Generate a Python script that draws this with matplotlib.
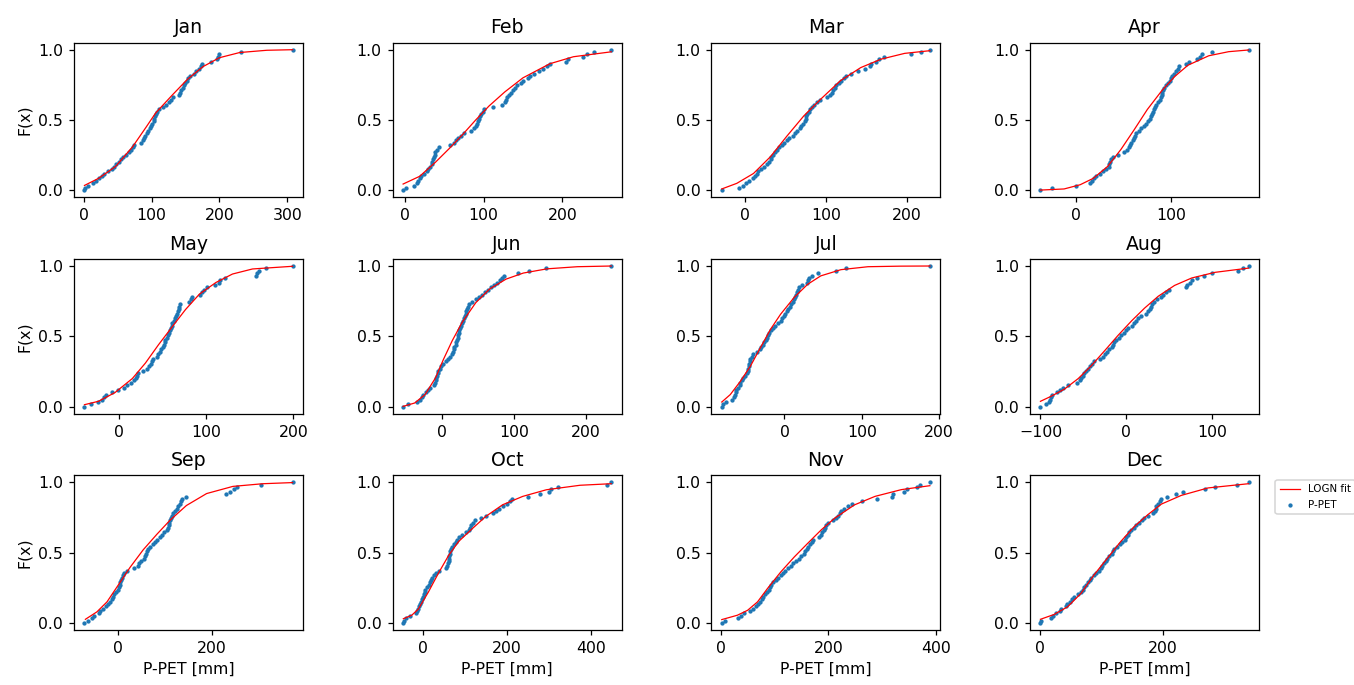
import numpy as np
import matplotlib.pyplot as plt
from matplotlib.ticker import MultipleLocator

###
# monthly empirical CDF of P-PET with fitted lognormal (LOGN) CDF
###

months = ['Jan', 'Feb', 'Mar', 'Apr', 'May', 'Jun',
          'Jul', 'Aug', 'Sep', 'Oct', 'Nov', 'Dec']

# sorted P-PET sample per month [mm]
ppet_jan = [1, 2, 6, 13, 18, 23, 27, 30, 36, 41, 45, 48, 52, 55, 58, 63, 67, 70, 72, 74,
            84, 87, 89, 91, 93, 95, 97, 99, 101, 103, 104, 105, 106, 108, 111, 117, 122, 126, 129, 132,
            141, 142, 144, 146, 148, 150, 152, 153, 156, 162, 166, 170, 173, 175, 187, 196, 198, 200, 232, 308]
ppet_feb = [-2, 2, 12, 15, 17, 19, 21, 25, 28, 30, 32, 34, 35, 36, 37, 38, 39, 41, 44, 58,
            62, 65, 68, 71, 75, 84, 88, 91, 92, 93, 94, 96, 97, 99, 101, 112, 123, 127, 129, 130,
            132, 135, 137, 140, 143, 147, 150, 156, 159, 164, 170, 176, 180, 184, 205, 207, 226, 231, 240, 262]
ppet_mar = [-28, -7, -2, 2, 6, 10, 13, 15, 17, 20, 24, 28, 30, 32, 33, 35, 37, 40, 43, 46,
            49, 52, 55, 59, 62, 65, 68, 70, 72, 74, 75, 76, 77, 79, 81, 83, 86, 89, 93, 102,
            105, 107, 109, 111, 113, 116, 119, 122, 125, 131, 140, 148, 154, 156, 162, 166, 172, 205, 217, 228]
ppet_apr = [-38, -26, 0, 14, 17, 19, 21, 25, 28, 31, 34, 35, 36, 37, 39, 44, 50, 54, 56, 57,
            58, 60, 61, 62, 63, 66, 68, 71, 74, 76, 78, 79, 80, 81, 82, 83, 84, 86, 88, 89,
            90, 91, 92, 93, 95, 97, 99, 100, 101, 103, 105, 107, 109, 116, 119, 128, 131, 133, 143, 182]
ppet_may = [-40, -33, -25, -20, -17, -15, -8, -2, 5, 9, 13, 17, 19, 20, 22, 27, 32, 34, 36, 37,
            39, 43, 45, 47, 48, 50, 51, 52, 53, 55, 56, 57, 58, 59, 60, 61, 63, 64, 65, 66,
            67, 68, 69, 70, 80, 82, 84, 93, 95, 97, 101, 110, 114, 116, 121, 157, 158, 160, 169, 199]
ppet_jun = [-54, -47, -35, -31, -28, -26, -22, -19, -17, -11, -10, -9, -8, -7, -6, -5, -3, -1, 1, 5,
            8, 11, 14, 15, 16, 17, 19, 20, 21, 22, 22.5, 23, 24, 25, 26, 28, 29, 31, 32, 33,
            34, 35, 36, 38, 41, 47, 52, 56, 60, 64, 68, 72, 76, 80, 83, 86, 106, 121, 144, 235]
ppet_jul = [-81, -80, -75, -68, -65, -64, -63, -62, -60, -58, -57, -55, -53, -51, -49, -47, -47, -46, -46, -45,
            -44, -42, -40, -36, -32, -30, -28, -26, -24, -23, -21, -20, -18, -15, -12, -8, -5, -3, -1, 1,
            3, 4, 7, 9, 11, 12, 13, 15, 16, 17, 19, 23, 29, 31, 32, 35, 44, 67, 80, 188]
ppet_aug = [-100, -93, -90, -89, -88, -86, -81, -77, -74, -68, -58, -54, -53, -51, -49, -47, -45, -42, -40, -38,
            -31, -27, -25, -23, -20, -17, -16, -15, -12, -9, -6, -3, 0, 2, 6, 9, 11, 13, 17, 23,
            25, 27, 29, 30, 32, 36, 40, 43, 46, 50, 69, 71, 74, 76, 82, 90, 100, 130, 136, 142]
ppet_sep = [-71, -64, -55, -50, -41, -39, -31, -25, -21, -17, -13, -10, -8, -4, 0, 2, 4, 5, 6, 9,
            11, 14, 20, 35, 42, 45, 50, 56, 58, 61, 63, 65, 69, 74, 79, 84, 89, 94, 99, 104,
            106, 108, 110, 112, 114, 116, 118, 121, 125, 128, 132, 135, 137, 146, 231, 238, 248, 254, 305, 372]
ppet_oct = [-46, -44, -40, -30, -16, -14, -11, -9, -6, -3, -1, 2, 4, 5, 6, 11, 15, 18, 20, 22,
            27, 32, 40, 55, 57, 60, 62, 63, 64, 65, 66, 68, 70, 75, 79, 83, 86, 93, 103, 110,
            113, 116, 120, 125, 140, 150, 168, 175, 182, 190, 200, 208, 212, 250, 278, 300, 306, 322, 438, 448]
ppet_nov = [2, 8, 32, 37, 44, 55, 60, 66, 70, 74, 77, 79, 82, 86, 89, 91, 94, 97, 102, 107,
            112, 116, 120, 125, 130, 134, 140, 146, 150, 154, 157, 160, 163, 166, 169, 172, 183, 186, 189, 192,
            194, 196, 200, 209, 215, 218, 221, 224, 229, 237, 244, 262, 290, 318, 320, 340, 346, 365, 371, 389]
ppet_dec = [0, 1, 18, 20, 26, 32, 34, 41, 44, 48, 51, 55, 61, 66, 69, 71, 74, 77, 80, 83,
            88, 91, 95, 98, 101, 103, 106, 109, 112, 117, 119, 120, 125, 130, 133, 137, 140, 142, 145, 148,
            152, 156, 160, 165, 169, 175, 184, 186, 188, 189, 191, 194, 197, 206, 221, 232, 268, 284, 320, 339]

fit_x_jan = [1, 22, 47, 72, 92, 106, 131, 153, 176, 200, 230, 270, 308]
fit_f_jan = [0.035, 0.086, 0.17, 0.31, 0.45, 0.55, 0.68, 0.79, 0.88, 0.943, 0.98, 0.996, 1.0]
fit_x_feb = [-2, 19, 39, 57, 74, 90, 107, 127, 150, 184, 214, 262]
fit_f_feb = [0.045, 0.10, 0.20, 0.30, 0.40, 0.50, 0.60, 0.70, 0.80, 0.90, 0.95, 0.985]
fit_x_mar = [-28, -9.5, 11, 32, 52, 73, 94, 118, 143, 168, 197, 228]
fit_f_mar = [0.01, 0.05, 0.12, 0.24, 0.385, 0.53, 0.65, 0.78, 0.873, 0.933, 0.974, 0.993]
fit_x_apr = [-38, -13, 4, 18, 33, 47, 61, 75, 90, 104, 118, 140, 161, 182]
fit_f_apr = [0.002, 0.01, 0.04, 0.086, 0.17, 0.29, 0.43, 0.575, 0.706, 0.81, 0.89, 0.957, 0.986, 0.998]
fit_x_may = [-40, -24, -5, 15, 30, 45, 61, 76, 92, 111, 130, 153, 199]
fit_f_may = [0.014, 0.038, 0.10, 0.20, 0.31, 0.44, 0.57, 0.69, 0.80, 0.883, 0.943, 0.979, 0.998]
fit_x_jun = [-54, -38, -23.5, -9, 2, 14, 28, 47, 66, 89, 113, 146, 188, 235]
fit_f_jun = [0.002, 0.026, 0.086, 0.205, 0.336, 0.467, 0.60, 0.74, 0.836, 0.907, 0.95, 0.98, 0.995, 1.0]
fit_x_jul = [-81, -70, -57, -44, -31, -18, -5, 12.5, 30, 47, 73, 108, 150, 188]
fit_f_jul = [0.033, 0.086, 0.18, 0.288, 0.42, 0.55, 0.657, 0.776, 0.87, 0.93, 0.974, 0.995, 0.999, 1.0]
fit_x_aug = [-100, -87.5, -72, -56, -41, -25, -10, 6, 21, 37, 56, 76, 103, 142]
fit_f_aug = [0.038, 0.074, 0.125, 0.20, 0.29, 0.40, 0.505, 0.61, 0.70, 0.785, 0.862, 0.915, 0.955, 0.985]
fit_x_sep = [-69, -44.5, -23, -2, 26, 54, 83, 111, 146, 189, 245, 309, 372]
fit_f_sep = [0.026, 0.079, 0.15, 0.255, 0.395, 0.52, 0.63, 0.73, 0.835, 0.92, 0.971, 0.99, 0.998]
fit_x_oct = [-45.5, -25.5, -9.6, 14, 38, 62, 86, 118, 150, 190, 238, 294, 374, 448]
fit_f_oct = [0.03, 0.055, 0.10, 0.22, 0.355, 0.48, 0.58, 0.67, 0.757, 0.84, 0.90, 0.947, 0.979, 0.99]
fit_x_nov = [2, 31, 50, 68.5, 87, 112, 137, 162, 187, 212, 249, 287, 336, 389]
fit_f_nov = [0.024, 0.055, 0.09, 0.15, 0.245, 0.364, 0.47, 0.567, 0.662, 0.745, 0.84, 0.90, 0.948, 0.976]
fit_x_dec = [0, 22, 44, 66, 87, 109, 131, 153, 175, 197, 229.5, 273, 339]
fit_f_dec = [0.026, 0.06, 0.114, 0.21, 0.34, 0.46, 0.58, 0.686, 0.77, 0.845, 0.907, 0.96, 0.99]

ppet = [ppet_jan, ppet_feb, ppet_mar, ppet_apr, ppet_may, ppet_jun,
        ppet_jul, ppet_aug, ppet_sep, ppet_oct, ppet_nov, ppet_dec]
fit_x = [fit_x_jan, fit_x_feb, fit_x_mar, fit_x_apr, fit_x_may, fit_x_jun,
         fit_x_jul, fit_x_aug, fit_x_sep, fit_x_oct, fit_x_nov, fit_x_dec]
fit_f = [fit_f_jan, fit_f_feb, fit_f_mar, fit_f_apr, fit_f_may, fit_f_jun,
         fit_f_jul, fit_f_aug, fit_f_sep, fit_f_oct, fit_f_nov, fit_f_dec]


def visualize_cdf():
    fig, axs = plt.subplots(3, 4, figsize=(1354/113, 685/113), dpi=113)
    fig.subplots_adjust(left=0.0547, right=0.9298, top=0.9377, bottom=0.0803,
                        wspace=0.392, hspace=0.398)

    for i, ax in enumerate(axs.flat):
        x = np.sort(np.array(ppet[i], dtype=float))
        # empirical cdf
        f_emp = np.arange(len(x)) / (len(x) - 1)

        ax.plot(fit_x[i], fit_f[i], color='red', lw=0.8, label='LOGN fit')
        ax.scatter(x, f_emp, s=3, label='P-PET')
        ax.set_title(months[i])
        if i % 4 == 0:
            ax.set_ylabel('F(x)')
        if i >= 8:
            ax.set_xlabel('P-PET [mm]')

    # Dec only shows every 200 mm
    axs[2, 3].xaxis.set_major_locator(MultipleLocator(200))
    axs[2, 3].legend(loc='upper left', bbox_to_anchor=(1.05, 1), fontsize=6.5)

    plt.savefig('out.png', dpi=113)
    print('done: create plot out.png')


if __name__ == '__main__':
    visualize_cdf()
